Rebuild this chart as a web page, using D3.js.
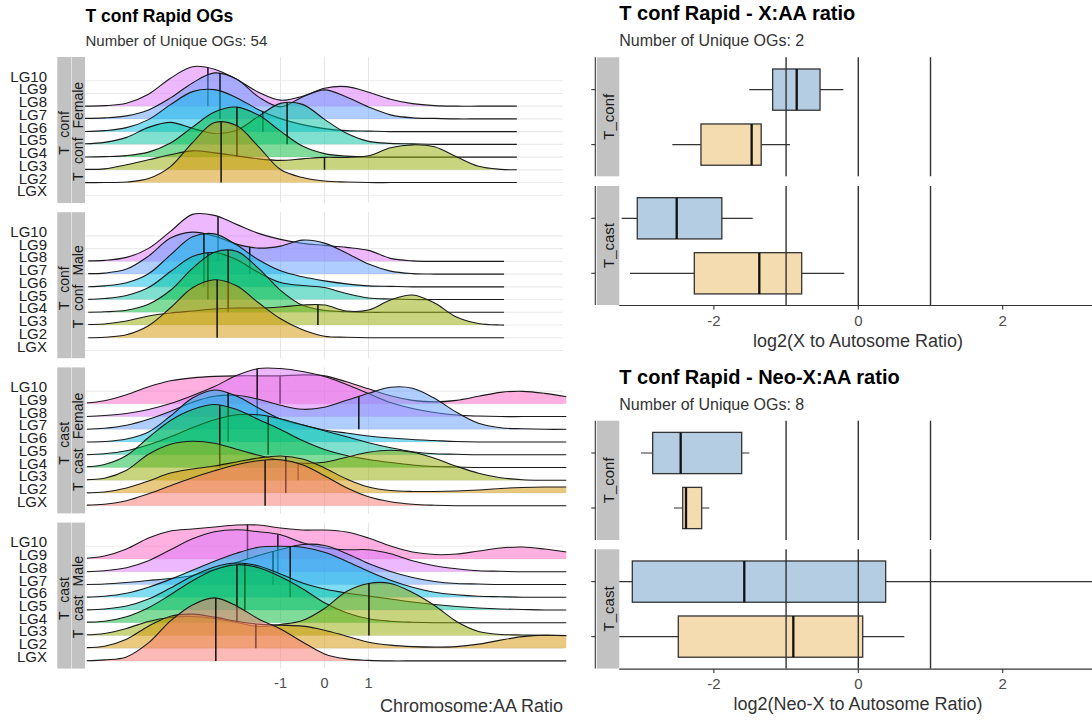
<!DOCTYPE html>
<html>
<head>
<meta charset="utf-8">
<script src="https://cdn.jsdelivr.net/npm/d3@7"></script>
<style>
  body { margin: 0; background: #fff; }
  svg { display: block; font-family: "Liberation Sans", Arial, Helvetica, sans-serif; }
</style>
</head>
<body>
<svg id="chart" width="1092" height="721"></svg>
<script>
// ---------- ridgeline data (density estimates per linkage group) ----------
const rowLevels = ["LG10", "LG9", "LG8", "LG7", "LG6", "LG5", "LG4", "LG3", "LG2", "LGX"];
const ridgeColours = { LGX: "#F8766D", LG2: "#D39200", LG3: "#93AA00", LG4: "#00BA38", LG5: "#00C19F",
                       LG6: "#00B9E3", LG7: "#619CFF", LG8: "#DB72FB", LG9: "#FF61C3" };
const densityX = [-5.5, -5, -4.5, -4, -3.5, -3, -2.5, -2, -1.5, -1, -0.5, 0, 0.5, 1, 1.5, 2, 2.5, 3, 3.5, 4, 4.5, 5, 5.5];
const xTicks = [-1, 0, 1];

const confFemaleDensity = {
  LG8: [0, 0.01, 0.06, 0.24, 0.56, 0.79, 0.74, 0.54, 0.28, 0.12, 0.2, 0.36, 0.39, 0.28, 0.14, 0.05, 0.01, 0, 0, 0, 0, 0, 0],
  LG7: [0.01, 0.02, 0.06, 0.18, 0.42, 0.72, 0.92, 0.8, 0.44, 0.24, 0.44, 0.58, 0.44, 0.24, 0.08, 0.02, 0.01, 0, 0, 0, 0, 0, 0],
  LG6: [0, 0.02, 0.08, 0.24, 0.54, 0.8, 0.84, 0.68, 0.44, 0.26, 0.14, 0.06, 0.02, 0.01, 0, 0, 0, 0, 0, 0, 0, 0, 0],
  LG5: [0.01, 0.04, 0.14, 0.34, 0.44, 0.32, 0.22, 0.28, 0.56, 0.82, 0.8, 0.5, 0.22, 0.06, 0.02, 0.01, 0, 0, 0, 0, 0, 0, 0],
  LG4: [0, 0.01, 0.03, 0.1, 0.28, 0.6, 0.9, 1.0, 0.84, 0.52, 0.22, 0.07, 0.02, 0, 0, 0, 0, 0, 0, 0, 0, 0, 0],
  LG3: [0.01, 0.02, 0.1, 0.2, 0.3, 0.38, 0.34, 0.28, 0.22, 0.19, 0.22, 0.25, 0.25, 0.28, 0.44, 0.5, 0.46, 0.26, 0.07, 0.01, 0, 0, 0],
  LG2: [0, 0, 0.01, 0.08, 0.32, 0.8, 1.2, 1.14, 0.72, 0.26, 0.1, 0.03, 0.01, 0, 0, 0, 0, 0, 0, 0, 0, 0, 0]
};
const confFemaleMedian = { LG8: -2.65, LG7: -2.375, LG6: -1.4, LG5: -0.85, LG4: -1.99, LG3: 0.0, LG2: -2.35 };

const confMaleDensity = {
  LG8: [0.01, 0.02, 0.08, 0.26, 0.6, 0.94, 0.92, 0.74, 0.56, 0.44, 0.36, 0.32, 0.28, 0.22, 0.06, 0.01, 0, 0, 0, 0, 0, 0, 0],
  LG7: [0.01, 0.02, 0.1, 0.36, 0.72, 0.84, 0.76, 0.6, 0.52, 0.56, 0.68, 0.62, 0.42, 0.2, 0.06, 0.01, 0, 0, 0, 0, 0, 0, 0],
  LG6: [0, 0.02, 0.08, 0.26, 0.64, 1.0, 1.06, 0.84, 0.54, 0.32, 0.2, 0.12, 0.06, 0.02, 0.01, 0, 0, 0, 0, 0, 0, 0, 0],
  LG5: [0, 0.02, 0.08, 0.24, 0.56, 0.86, 0.94, 0.8, 0.54, 0.34, 0.28, 0.24, 0.12, 0.03, 0.01, 0, 0, 0, 0, 0, 0, 0, 0],
  LG4: [0, 0.01, 0.04, 0.16, 0.44, 0.88, 1.2, 1.22, 0.88, 0.44, 0.14, 0.04, 0.01, 0, 0, 0, 0, 0, 0, 0, 0, 0, 0],
  LG3: [0.01, 0.02, 0.08, 0.18, 0.24, 0.28, 0.32, 0.34, 0.34, 0.36, 0.4, 0.4, 0.28, 0.3, 0.5, 0.6, 0.44, 0.16, 0.03, 0, 0, 0, 0],
  LG2: [0, 0.01, 0.06, 0.24, 0.6, 1.0, 1.16, 1.04, 0.7, 0.38, 0.16, 0.03, 0.01, 0, 0, 0, 0, 0, 0, 0, 0, 0, 0]
};
const confMaleMedian = { LG8: -2.42, LG7: -1.7, LG6: -2.74, LG5: -2.65, LG4: -2.19, LG3: -0.15, LG2: -2.44 };

const castFemaleDensity = {
  LG9: [0.01, 0.06, 0.18, 0.34, 0.46, 0.52, 0.55, 0.56, 0.56, 0.56, 0.58, 0.56, 0.44, 0.3, 0.16, 0.07, 0.04, 0.07, 0.15, 0.23, 0.25, 0.21, 0.14],
  LG8: [0, 0.02, 0.06, 0.14, 0.26, 0.42, 0.6, 0.82, 0.96, 0.96, 0.9, 0.8, 0.64, 0.46, 0.28, 0.16, 0.08, 0.03, 0.01, 0, 0, 0, 0],
  LG7: [0, 0.02, 0.08, 0.2, 0.36, 0.54, 0.66, 0.68, 0.6, 0.48, 0.4, 0.44, 0.58, 0.72, 0.84, 0.82, 0.62, 0.34, 0.12, 0.03, 0.01, 0, 0],
  LG6: [0, 0.01, 0.06, 0.2, 0.52, 0.88, 1.04, 0.92, 0.68, 0.46, 0.34, 0.24, 0.18, 0.12, 0.08, 0.05, 0.03, 0.01, 0, 0, 0, 0, 0],
  LG5: [0, 0.02, 0.08, 0.2, 0.36, 0.54, 0.7, 0.8, 0.8, 0.72, 0.6, 0.48, 0.36, 0.24, 0.14, 0.06, 0.02, 0.01, 0, 0, 0, 0, 0],
  LG4: [0.01, 0.06, 0.24, 0.6, 0.94, 1.16, 1.26, 1.16, 0.96, 0.76, 0.54, 0.36, 0.24, 0.16, 0.1, 0.05, 0.02, 0.01, 0, 0, 0, 0, 0],
  LG3: [0.01, 0.04, 0.2, 0.52, 0.72, 0.78, 0.74, 0.62, 0.5, 0.4, 0.34, 0.36, 0.46, 0.56, 0.6, 0.56, 0.44, 0.28, 0.14, 0.05, 0.01, 0, 0],
  LG2: [0, 0.02, 0.1, 0.24, 0.4, 0.48, 0.54, 0.62, 0.7, 0.74, 0.68, 0.5, 0.28, 0.12, 0.05, 0.03, 0.03, 0.04, 0.06, 0.09, 0.11, 0.12, 0.12],
  LGX: [0.01, 0.03, 0.1, 0.24, 0.4, 0.56, 0.7, 0.82, 0.9, 0.92, 0.82, 0.6, 0.36, 0.18, 0.08, 0.03, 0.01, 0, 0, 0, 0, 0, 0]
};
const castFemaleMedian = { LG9: -1.01, LG8: -1.53, LG7: 0.78, LG6: -2.19, LG5: -1.28, LG4: -2.38, LG3: -0.6, LG2: -0.88, LGX: -1.35 };

const castMaleDensity = {
  LG9: [0.01, 0.06, 0.2, 0.42, 0.56, 0.6, 0.64, 0.68, 0.68, 0.62, 0.58, 0.58, 0.54, 0.42, 0.26, 0.14, 0.09, 0.1, 0.16, 0.22, 0.24, 0.2, 0.14],
  LG8: [0, 0.02, 0.08, 0.22, 0.44, 0.66, 0.8, 0.84, 0.8, 0.74, 0.58, 0.48, 0.44, 0.44, 0.36, 0.22, 0.12, 0.06, 0.02, 0.01, 0, 0, 0],
  LG7: [0, 0.01, 0.04, 0.08, 0.12, 0.18, 0.3, 0.44, 0.58, 0.7, 0.8, 0.78, 0.62, 0.42, 0.26, 0.14, 0.06, 0.02, 0.01, 0, 0, 0, 0],
  LG6: [0, 0.02, 0.08, 0.2, 0.36, 0.54, 0.72, 0.88, 1.0, 1.02, 1.0, 0.9, 0.72, 0.52, 0.34, 0.2, 0.1, 0.05, 0.02, 0.01, 0, 0, 0],
  LG5: [0, 0.02, 0.08, 0.22, 0.44, 0.68, 0.86, 0.94, 0.88, 0.72, 0.54, 0.42, 0.34, 0.28, 0.22, 0.16, 0.11, 0.07, 0.04, 0.02, 0.01, 0, 0],
  LG4: [0.01, 0.03, 0.12, 0.3, 0.56, 0.84, 1.06, 1.16, 1.1, 0.92, 0.68, 0.4, 0.2, 0.08, 0.03, 0.01, 0, 0, 0, 0, 0, 0, 0],
  LG3: [0.01, 0.04, 0.14, 0.28, 0.36, 0.38, 0.34, 0.26, 0.18, 0.22, 0.3, 0.54, 0.88, 1.04, 1.04, 0.86, 0.6, 0.28, 0.08, 0.02, 0.01, 0, 0],
  LG2: [0.01, 0.04, 0.18, 0.44, 0.64, 0.68, 0.62, 0.54, 0.48, 0.46, 0.44, 0.36, 0.24, 0.12, 0.06, 0.03, 0.02, 0.03, 0.08, 0.16, 0.23, 0.26, 0.25],
  LGX: [0, 0.02, 0.08, 0.36, 0.8, 1.12, 1.26, 1.1, 0.84, 0.64, 0.38, 0.14, 0.04, 0.01, 0, 0, 0, 0, 0, 0, 0, 0, 0]
};
const castMaleMedian = { LG9: -1.75, LG8: -1.06, LG7: -1.17, LG6: -0.78, LG5: -1.81, LG4: -1.99, LG3: 1.01, LG2: -1.56, LGX: -2.47 };

// range over which each facet's densities were evaluated
const densityRanges = [[-5.44, 4.37], [-5.37, 4.08], [-5.4, 5.5], [-5.4, 5.5]];
const speciesLabels = ["T conf", "T conf", "T cast", "T cast"];
const groupLabels = ["T conf Female", "T conf Male", "T cast Female", "T cast Male"];

// ---------- boxplot data (log2 ratios) ----------
const boxFacets = ["T_conf", "T_cast"];
const boxSexes = ["Female", "Male"];
const boxFills = { Female: "#b5cde3", Male: "#f5dcb0" };
const boxTicks = [-2, 0, 2];
const refLines = [-1, 0, 1];
const xaaStats = [
  { facet: "T_conf", sex: "Female", lo: -1.51, q1: -1.186, med: -0.853, q3: -0.53, hi: -0.208 },
  { facet: "T_conf", sex: "Male", lo: -2.576, q1: -2.179, med: -1.477, q3: -1.345, hi: -0.947 },
  { facet: "T_cast", sex: "Female", lo: -3.277, q1: -3.061, med: -2.515, q3: -1.89, hi: -1.463 },
  { facet: "T_cast", sex: "Male", lo: -3.162, q1: -2.271, med: -1.371, q3: -0.784, hi: -0.194 }
];
const neoxStats = [
  { facet: "T_conf", sex: "Female", lo: -3.01, q1: -2.848, med: -2.46, q3: -1.615, hi: -1.51 },
  { facet: "T_conf", sex: "Male", lo: -2.553, q1: -2.432, med: -2.386, q3: -2.169, hi: -2.064 },
  { facet: "T_cast", sex: "Female", lo: -3.6, q1: -3.13, med: -1.579, q3: 0.379, hi: 3.6 },
  { facet: "T_cast", sex: "Male", lo: -3.6, q1: -2.493, med: -0.9, q3: 0.061, hi: 0.637 }
];

// ---------- drawing ----------
const svg = d3.select("#chart");
const ink = "#1a1a1a";
const stripFill = "#c2c2c2";

// ===== left: ridgeline facets =====
const xL = d3.scaleLinear().domain([-5.443, 5.42]).range([85, 563]);
const hScale = d3.scaleLinear().domain([0, 1]).range([0, 50]);
const panelTop0 = 57, panelStep = 155.2, panelH = 146;
const ridgeSets = [
  [confFemaleDensity, confFemaleMedian],
  [confMaleDensity, confMaleMedian],
  [castFemaleDensity, castFemaleMedian],
  [castMaleDensity, castMaleMedian]
];

svg.append("text").attr("x", 85.5).attr("y", 22).attr("font-size", 17.5).attr("font-weight", "bold")
  .attr("fill", "#000").text("T conf Rapid OGs");
svg.append("text").attr("x", 85.5).attr("y", 45.5).attr("font-size", 15).attr("fill", "#333")
  .text("Number of Unique OGs: 54");

const defs = svg.append("defs");

function yAtX(node, targetX) {
  const L = node.getTotalLength();
  let lo = 0, hi = L;
  for (let i = 0; i < 40; i++) {
    const mid = (lo + hi) / 2;
    if (node.getPointAtLength(mid).x < targetX) lo = mid; else hi = mid;
  }
  return node.getPointAtLength((lo + hi) / 2).y;
}

ridgeSets.forEach(([dens, med], p) => {
  const top = panelTop0 + p * panelStep;
  const y = d3.scalePoint().domain(rowLevels).range([top + 23.7, top + 138.3]);
  const g = svg.append("g");

  // strips
  g.append("rect").attr("x", 57.3).attr("y", top).attr("width", 14.1).attr("height", panelH).attr("fill", stripFill);
  g.append("rect").attr("x", 71.9).attr("y", top).attr("width", 13.1).attr("height", panelH).attr("fill", stripFill);
  const cy = top + panelH / 2 + 1.5;
  g.append("text").attr("transform", `translate(69.3,${cy + 1.5}) rotate(-90)`).attr("text-anchor", "middle")
    .attr("font-size", 14).attr("fill", ink).style("word-spacing", "5px").text(speciesLabels[p]);
  g.append("text").attr("transform", `translate(83,${cy}) rotate(-90)`).attr("text-anchor", "middle")
    .attr("font-size", 14).attr("fill", ink).style("word-spacing", "5px").text(groupLabels[p]);

  // grid
  g.selectAll(".hgrid").data(rowLevels).join("line")
    .attr("x1", 85).attr("x2", 563).attr("y1", d => y(d)).attr("y2", d => y(d))
    .attr("stroke", "#ebebeb").attr("stroke-width", 1.1);
  g.selectAll(".vgrid").data(xTicks).join("line")
    .attr("x1", d => xL(d)).attr("x2", d => xL(d)).attr("y1", top).attr("y2", top + panelH)
    .attr("stroke", "#e6e6e6").attr("stroke-width", 1.1);

  // y labels
  g.selectAll(".ylab").data(rowLevels).join("text")
    .attr("x", 47).attr("y", d => y(d) + 1).attr("text-anchor", "end")
    .attr("font-size", 15).attr("fill", "#222").text(d => d);

  // clip to the evaluated density range
  const [from, to] = densityRanges[p];
  const clipId = "ridgeclip" + p;
  defs.append("clipPath").attr("id", clipId).append("rect")
    .attr("x", xL(from)).attr("y", top - 40).attr("width", xL(to) - xL(from)).attr("height", panelH + 40);
  const rg = g.append("g").attr("clip-path", `url(#${clipId})`);

  // ridges from back (top) to front (bottom)
  const order = rowLevels.filter(l => dens[l]);
  order.forEach(level => {
    const base = y(level);
    const pts = densityX.map((x, i) => ({ x, v: dens[level][i] }));
    const curve = d3.curveCatmullRom.alpha(0.5);
    const area = d3.area().x(d => xL(d.x)).y0(base).y1(d => base - hScale(d.v)).curve(curve);
    const line = d3.line().x(d => xL(d.x)).y(d => base - hScale(d.v)).curve(curve);
    rg.append("path").attr("d", area(pts)).attr("fill", ridgeColours[level]).attr("fill-opacity", 0.5);
    const outline = rg.append("path").attr("d", line(pts)).attr("fill", "none")
      .attr("stroke", ink).attr("stroke-width", 1.1);
    const mx = xL(med[level]);
    const my = yAtX(outline.node(), mx);
    rg.append("line").attr("x1", mx).attr("x2", mx).attr("y1", base).attr("y2", my)
      .attr("stroke", "#111").attr("stroke-width", 1.5);
  });
});

// x axis of ridgeline column
svg.selectAll(".xlabL").data(xTicks).join("text")
  .attr("x", d => xL(d)).attr("y", 688).attr("text-anchor", "middle")
  .attr("font-size", 14.5).attr("fill", "#4d4d4d").text(d => d);
svg.append("text").attr("x", 563).attr("y", 712).attr("text-anchor", "end")
  .attr("font-size", 18).attr("fill", "#333").text("Chromosome:AA Ratio");

// ===== right: boxplot panels =====
const xR = d3.scaleLinear().domain([-3.31, 3.31]).range([619.3, 1097.3]);

function boxPlot(stats, cfg) {
  const g = svg.append("g");
  g.append("text").attr("x", 619.3).attr("y", cfg.titleY).attr("font-size", 20).attr("font-weight", "bold")
    .attr("fill", "#000").text(cfg.title);
  g.append("text").attr("x", 619.3).attr("y", cfg.titleY + 26).attr("font-size", 16).attr("fill", "#333")
    .text(cfg.subtitle);

  const clipId = "boxclip" + cfg.id;
  defs.append("clipPath").attr("id", clipId).append("rect")
    .attr("x", 619.3).attr("y", cfg.tops[0] - 5).attr("width", 480).attr("height", 300);

  boxFacets.forEach((facet, i) => {
    const top = cfg.tops[i], bottom = top + cfg.h;
    const y = d3.scalePoint().domain(boxSexes).range([top + 32.3, top + 87.3]);
    const bw = 0.75 * y.step();

    g.append("rect").attr("x", 596.7).attr("y", top).attr("width", 22.6).attr("height", cfg.h).attr("fill", stripFill);
    g.append("text").attr("transform", `translate(613.5,${top + cfg.h / 2}) rotate(-90)`)
      .attr("text-anchor", "middle").attr("font-size", 15).attr("fill", ink).text(facet);

    // y axis line and ticks
    g.append("line").attr("x1", 595.3).attr("x2", 595.3).attr("y1", top).attr("y2", bottom)
      .attr("stroke", "#333").attr("stroke-width", 1.1);
    g.selectAll(null).data(boxSexes).join("line")
      .attr("x1", 591.3).attr("x2", 595.3).attr("y1", d => y(d)).attr("y2", d => y(d))
      .attr("stroke", "#333").attr("stroke-width", 1.1);

    const pg = g.append("g").attr("clip-path", `url(#${clipId})`);
    stats.filter(s => s.facet === facet).forEach(s => {
      const cyy = y(s.sex);
      pg.append("line").attr("x1", xR(s.lo)).attr("x2", xR(s.q1)).attr("y1", cyy).attr("y2", cyy)
        .attr("stroke", "#333").attr("stroke-width", 1.2);
      pg.append("line").attr("x1", xR(s.q3)).attr("x2", xR(s.hi)).attr("y1", cyy).attr("y2", cyy)
        .attr("stroke", "#333").attr("stroke-width", 1.2);
      pg.append("rect").attr("x", xR(s.q1)).attr("y", cyy - bw / 2).attr("width", xR(s.q3) - xR(s.q1))
        .attr("height", bw).attr("fill", boxFills[s.sex]).attr("stroke", "#333").attr("stroke-width", 1.3);
      pg.append("line").attr("x1", xR(s.med)).attr("x2", xR(s.med)).attr("y1", cyy - bw / 2).attr("y2", cyy + bw / 2)
        .attr("stroke", "#111").attr("stroke-width", 2.3);
    });
    pg.selectAll(null).data(refLines).join("line")
      .attr("x1", d => xR(d)).attr("x2", d => xR(d)).attr("y1", top).attr("y2", bottom)
      .attr("stroke", "#333").attr("stroke-width", 1.4);
  });

  const axisY = cfg.tops[1] + cfg.h + 0.5;
  g.append("line").attr("x1", 619.3).attr("x2", 1092).attr("y1", axisY).attr("y2", axisY)
    .attr("stroke", "#333").attr("stroke-width", 1.1);
  g.selectAll(null).data(boxTicks).join("line")
    .attr("x1", d => xR(d)).attr("x2", d => xR(d)).attr("y1", axisY).attr("y2", axisY + 4)
    .attr("stroke", "#333").attr("stroke-width", 1.1);
  g.selectAll(null).data(boxTicks).join("text")
    .attr("x", d => xR(d)).attr("y", axisY + 20).attr("text-anchor", "middle")
    .attr("font-size", 15).attr("fill", "#4d4d4d").text(d => d);
  g.append("text").attr("x", 858).attr("y", axisY + 41).attr("text-anchor", "middle")
    .attr("font-size", 18).attr("fill", "#333").text(cfg.xTitle);
}

boxPlot(xaaStats, {
  id: 0, title: "T conf Rapid - X:AA ratio", subtitle: "Number of Unique OGs: 2", titleY: 19.5,
  tops: [57.3, 186], h: 119, xTitle: "log2(X to Autosome Ratio)"
});
boxPlot(neoxStats, {
  id: 1, title: "T conf Rapid - Neo-X:AA ratio", subtitle: "Number of Unique OGs: 8", titleY: 383.5,
  tops: [420.7, 549.3], h: 119.3, xTitle: "log2(Neo-X to Autosome Ratio)"
});
</script>
</body>
</html>
